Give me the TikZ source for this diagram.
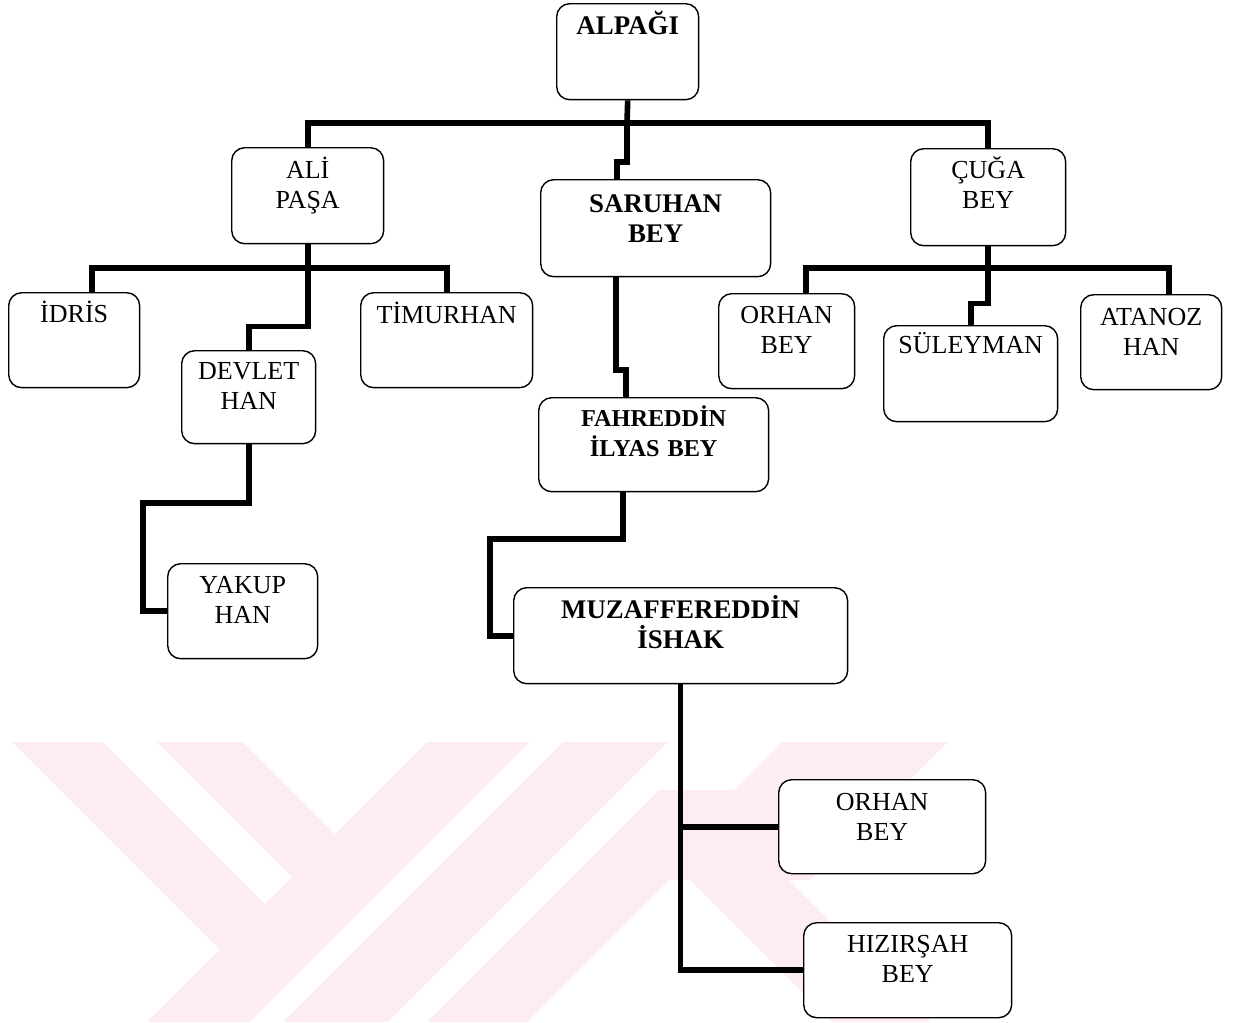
\documentclass[tikz,border=0pt]{standalone}
\usepackage{fontspec}
\setmainfont{Liberation Serif}
\usetikzlibrary{positioning}
\definecolor{wmpink}{RGB}{253,237,240}
\tikzstyle{person} = [rectangle, rounded corners=0.26cm, draw=black, line width=0.8pt, fill=white, inner sep=0pt, align=center, anchor=north west, text height=0.6cm, font=\fontsize{14.8}{16.7}\selectfont]
\tikzstyle{personB} = [person, font=\fontsize{15.3}{17}\selectfont\bfseries]
\tikzstyle{personC} = [person, font=\fontsize{13.8}{16.7}\selectfont\bfseries]
\tikzstyle{link} = [line width=3.2pt]
\begin{document}
\begin{tikzpicture}[x=0.02cm, y=-0.02cm]
		\useasboundingbox (0,0) rectangle (1243,1022);
		\fill[wmpink] (12,742) -- (103,742) -- (265,904) -- (219.5,949.5) -- cycle;
		\fill[wmpink] (157,742) -- (243,742) -- (335,834) -- (292,877) -- cycle;
		\fill[wmpink] (427,742) -- (530,742) -- (250,1022) -- (147,1022) -- cycle;
		\fill[wmpink] (563,742) -- (668,742) -- (388,1022) -- (283,1022) -- cycle;
		\fill[wmpink] (659,790) -- (759,790) -- (527,1022) -- (427,1022) -- cycle;
		\fill[wmpink] (782,742) -- (948,742) -- (810,880) -- (644,880) -- cycle;
		\fill[wmpink] (729,820) -- (931,1022) -- (832,1022) -- (679.5,869.5) -- cycle;

		\node (alpagi) [personB, text width=2.84cm, text height=0.62cm, text depth=1.30cm] at (556,3) {ALPAĞI};
		\node (alipasa) [person, text width=3.04cm, text height=0.62cm, text depth=1.30cm] at (231,147) {ALİ\\PAŞA};
		\node (saruhan) [personB, text width=4.60cm, text height=0.66cm, text depth=1.28cm] at (540,179) {SARUHAN\\BEY};
		\node (cugabey) [person, text width=3.10cm, text depth=1.34cm] at (910,148) {ÇUĞA\\BEY};
		\node (idris) [person, text width=2.62cm, text depth=1.30cm] at (8,292) {İDRİS};
		\node (devlet) [person, text width=2.68cm, text height=0.58cm, text depth=1.28cm] at (181,350) {DEVLET\\HAN};
		\node (timurhan) [person, text width=3.44cm, text height=0.62cm, text depth=1.28cm] at (360,292) {TİMURHAN};
		\node (fahreddin) [personC, text width=4.60cm, text height=0.58cm, text depth=1.30cm] at (538,397) {FAHREDDİN\\İLYAS BEY};
		\node (orhan1) [person, text width=2.72cm, text depth=1.30cm] at (718,293) {ORHAN\\BEY};
		\node (suleyman) [person, text width=3.48cm, text height=0.56cm, text depth=1.36cm] at (883,325) {SÜLEYMAN};
		\node (atanoz) [person, text width=2.82cm, text height=0.62cm, text depth=1.28cm] at (1080,294) {ATANOZ\\HAN};
		\node (yakup) [person, text width=3.00cm, text depth=1.30cm] at (167,563) {YAKUP\\HAN};
		\node (muzaffer) [personC, text width=6.68cm, text height=0.62cm, text depth=1.30cm, font=\fontsize{15.3}{17}\selectfont\bfseries] at (513,587) {MUZAFFEREDDİN\\İSHAK};
		\node (orhan2) [person, text width=4.14cm, text height=0.62cm, text depth=1.26cm] at (778,779) {ORHAN\\BEY};
		\node (hizirsah) [person, text width=4.16cm, text depth=1.30cm] at (803,922) {HIZIRŞAH\\BEY};

		\coordinate (bus1) at (627,123);
		\coordinate (k-saruhan) at (617,162);
		\draw [link] (alipasa.north) |- (bus1) -| (cugabey.north);
		\draw [link] (alpagi.south) -- (bus1) |- (k-saruhan) -- (k-saruhan |- saruhan.north);

		\coordinate (k-idris) at (92,268);
		\draw [link] (k-idris |- idris.north) -- (k-idris) -| (timurhan.north);
		\draw [link] (alipasa.south) -- ++(0,82) -| (devlet.north);
		\coordinate (k-devlet) at (143,503);
		\draw [link] (devlet.south) |- (k-devlet) |- (yakup.west);

		\coordinate (k-orhan) at (806,268);
		\coordinate (k-atanoz) at (1169,268);
		\draw [link] (k-orhan |- orhan1.north) -- (k-orhan) -- (k-atanoz) -- (k-atanoz |- atanoz.north);
		\draw [link] (cugabey.south) -- ++(0,57) -| (suleyman.north);

		\coordinate (k-sar1) at (616,370);
		\coordinate (k-sar2) at (626,370);
		\draw [link] (k-sar1 |- saruhan.south) -- (k-sar1) -- (k-sar2) -- (k-sar2 |- fahreddin.north);
		\coordinate (k-fah1) at (623,539);
		\coordinate (k-fah2) at (490,539);
		\draw [link] (k-fah1 |- fahreddin.south) -- (k-fah1) -- (k-fah2) |- (muzaffer.west);

		\draw [link] (muzaffer.south) |- (hizirsah.west);
		\draw [link] (muzaffer.south |- orhan2.west) -- (orhan2.west);
	\end{tikzpicture}
\end{document}
